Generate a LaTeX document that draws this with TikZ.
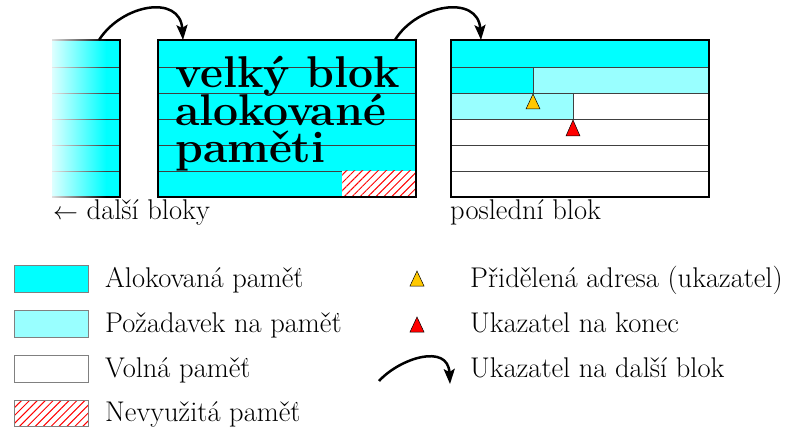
\documentclass[tikz,border=0pt]{standalone}
\usetikzlibrary{arrows.meta,patterns.meta,fadings}
\definecolor{alloc}{RGB}{0,255,255}
\definecolor{request}{RGB}{153,255,255}
\definecolor{ptrorange}{RGB}{255,200,0}
\tikzfading[name=fadeleft, left color=transparent!0, right color=transparent!100]
\tikzset{
  blockborder/.style={draw=black, line width=2.4pt},
  rowline/.style={draw=black!75, line width=0.8pt},
  unused/.style={fill=white, postaction={pattern={Lines[angle=45,distance=5.6pt,line width=1pt]}, pattern color=red}},
  nextptr/.style={-{Stealth[length=15pt,width=11pt,inset=3pt]}, line width=2.5pt},
  legendbox/.style={draw=black!50, line width=0.9pt},
  lbl/.style={inner sep=0pt, anchor=base west, font=\fontsize{28.5}{34}\selectfont},
  tri/.style={draw=black, line width=0.5pt},
}
\begin{document}
\begin{tikzpicture}[x=1pt, y=-1pt]
\useasboundingbox (0,0) rectangle (789,430);

% ---------- older blocks, fading out to the left ----------
\fill[alloc] (52,40) rectangle (120,197);
\foreach \y in {67,93,119,145,171} \draw[rowline] (52,\y) -- (120,\y);
\draw[blockborder] (52,40) -- (120,40) -- (120,197) -- (52,197);
\fill[white, path fading=fadeleft] (44,34) rectangle (106,203);
\coordinate (prevout) at (99,40);

% ---------- large allocated block ----------
\fill[alloc] (158,40) rectangle (416,197);
\foreach \y in {67,93,119,145,171} \draw[rowline] (158,\y) -- (416,\y);
\path[unused] (342,171) rectangle (416,197);
\node[inner sep=0pt, anchor=base west] (bigtext) at (175,88)
  {\parbox[t]{240pt}{\fontsize{44.5}{37.5}\selectfont\bfseries
   \lineskiplimit=-60pt\raggedright velký blok\\alokované\\paměti}};
\draw[blockborder] (158,40) rectangle (416,197);
\coordinate (bigin) at (183,40);
\coordinate (bigout) at (395,40);

% ---------- last block ----------
\fill[alloc] (451,40) rectangle (709,67);
\fill[alloc] (451,67) rectangle (533,93);
\fill[request] (533,67) rectangle (709,93);
\fill[request] (451,93) rectangle (573,119);
\fill[white] (573,93) rectangle (709,119);
\fill[white] (451,119) rectangle (709,197);
\foreach \y in {67,93,119,145,171} \draw[rowline] (451,\y) -- (709,\y);
\draw[rowline] (533,67) -- (533,94);
\draw[rowline] (573,93) -- (573,120);
\draw[tri, fill=ptrorange] (533,94) -- (540,109) -- (526,109) -- cycle;
\draw[tri, fill=red] (573,120) -- (580,136) -- (566,136) -- cycle;
\draw[blockborder] (451,40) rectangle (709,197);
\coordinate (lastin) at (481,40);

% ---------- pointers between blocks ----------
\draw[nextptr] (prevout) .. controls (122,4) and (180,-6) .. (bigin);
\draw[nextptr] (bigout) .. controls (417,4) and (478,-6) .. (lastin);

% ---------- captions ----------
\node[lbl] (prevlbl) at (53,220) {$\leftarrow$ další bloky};
\node[lbl] (lastlbl) at (450,220) {poslední blok};

% ---------- legend ----------
\draw[legendbox, fill=alloc] (14,265) rectangle (88,292);
\draw[legendbox, fill=request] (14,310) rectangle (88,337);
\draw[legendbox, fill=white] (14,355) rectangle (88,382);
\path[unused] (14,400) rectangle (88,426);
\draw[legendbox] (14,400) rectangle (88,426);
\node[lbl] (lg1) at (105,287) {Alokovaná paměť};
\node[lbl] (lg2) at (105,332) {Požadavek na paměť};
\node[lbl] (lg3) at (105,377) {Volná paměť};
\node[lbl] (lg4) at (105,421) {Nevyužitá paměť};

\draw[tri, fill=ptrorange] (417,271) -- (424,286) -- (410,286) -- cycle;
\draw[tri, fill=red] (417,317) -- (424,332) -- (410,332) -- cycle;
\coordinate (lgarrs) at (379,381);
\coordinate (lgarre) at (450,384);
\draw[nextptr] (lgarrs) .. controls (400,358) and (448,343) .. (lgarre);
\node[lbl] (lg5) at (470,287) {Přidělená adresa (ukazatel)};
\node[lbl] (lg6) at (470,332) {Ukazatel na konec};
\node[lbl] (lg7) at (470,377) {Ukazatel na další blok};
\end{tikzpicture}
\end{document}
